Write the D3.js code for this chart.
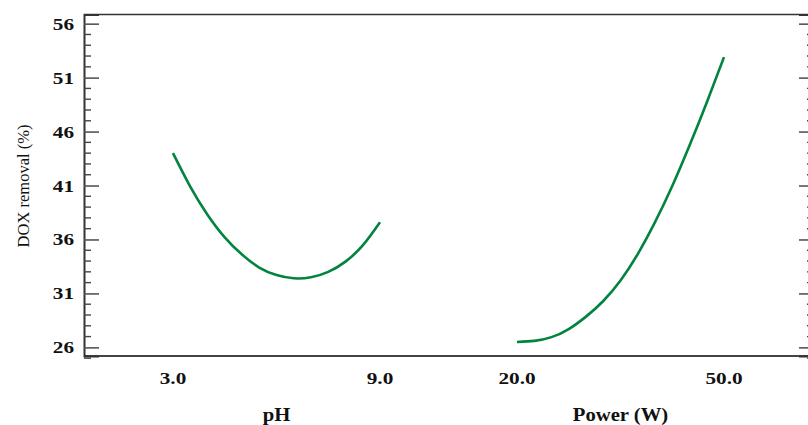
<!DOCTYPE html>
<html>
<head>
<meta charset="utf-8">
<script src="https://cdn.jsdelivr.net/npm/d3@7"></script>
<style>
  body { margin: 0; background: #fff; }
  svg text { font-family: "Liberation Serif", "Times New Roman", serif; }
</style>
</head>
<body>
<script>
var width = 808,
    height = 425

// factors and their settings
var factors = ["pH", "Power (W)"];
var factorTicks = [["3.0", "9.0"], ["20.0", "50.0"]];
var factorDomains = [[3, 9], [20, 50]];

var phLevels = [3, 3.5, 4, 4.5, 5, 5.5, 6, 6.5, 7, 7.5, 8, 8.5, 9];
var phRemoval = [44.0, 40.9, 38.3, 36.2, 34.6, 33.4, 32.7, 32.4, 32.5, 33.0, 33.95, 35.45, 37.6];

var powerLevels = [20, 22.5, 25, 27.5, 30, 32.5, 35, 37.5, 40, 42.5, 45, 47.5, 50];
var powerRemoval = [26.5, 26.6, 26.95, 27.7, 28.85, 30.3, 32.2, 34.65, 37.6, 40.95, 44.7, 48.7, 52.9];

var yMajor = [26, 31, 36, 41, 46, 51, 56];

var series = [
  phLevels.map(function(v, i) { return {x: v, y: phRemoval[i]}; }),
  powerLevels.map(function(v, i) { return {x: v, y: powerRemoval[i]}; })
];

var plotLeft = 84, plotRight = 814, plotTop = 14.5, plotBottom = 356;

var svg = d3.select("body").append("svg")
    .attr("width", width)
    .attr("height", height);

var y = d3.scaleLinear().domain([25.2, 56.85]).range([plotBottom, plotTop]);

var xBand = d3.scaleBand().domain(factors).range([plotLeft, plotRight])
    .paddingInner(0).paddingOuter(0.061);

var xInner = factors.map(function(f, i) {
  var c = xBand(f) + xBand.bandwidth() / 2;
  return d3.scaleLinear().domain(factorDomains[i]).range([c - 104, c + 103]);
});

// stretched bold label, like the original export
function label(x, yy, txt, size, sx, anchor, bold) {
  svg.append("text")
      .attr("transform", "translate(" + x + "," + yy + ") scale(" + sx + ",1)")
      .attr("text-anchor", anchor)
      .attr("font-size", size)
      .attr("font-weight", bold ? "bold" : "normal")
      .attr("fill", "#111")
      .text(txt);
}

// frame
svg.append("line").attr("x1", plotLeft).attr("x2", plotRight).attr("y1", plotTop).attr("y2", plotTop)
    .attr("stroke", "#333").attr("stroke-width", 1.6);
svg.append("line").attr("x1", plotLeft).attr("x2", plotRight).attr("y1", plotBottom).attr("y2", plotBottom)
    .attr("stroke", "#444").attr("stroke-width", 2);

// left axis
var minor = d3.range(26, 57, 1).filter(function(v) { return yMajor.indexOf(v) < 0; });
minor.push(25);

var leftAxis = d3.axisLeft(y).tickValues(yMajor).tickSize(-15).tickFormat("");
var gl = svg.append("g").attr("transform", "translate(" + plotLeft + ",0)").call(leftAxis);
gl.select(".domain").attr("stroke", "#333").attr("stroke-width", 2);
gl.selectAll(".tick line").attr("stroke", "#555").attr("stroke-width", 1.6);
gl.selectAll(".minor").data(minor).enter().append("line")
    .attr("x1", 0).attr("x2", 7)
    .attr("y1", function(d) { return y(d); }).attr("y2", function(d) { return y(d); })
    .attr("stroke", "#444").attr("stroke-width", 1.4);
yMajor.forEach(function(v) {
  label(74, y(v) + 6, String(v), 17, 1.25, "end", true);
});

// right axis (mirror, no labels)
var rightAxis = d3.axisRight(y).tickValues(yMajor).tickSize(-15).tickFormat("");
var gr = svg.append("g").attr("transform", "translate(" + plotRight + ",0)").call(rightAxis);
gr.select(".domain").attr("stroke", "#333").attr("stroke-width", 2);
gr.selectAll(".tick line").attr("stroke", "#555").attr("stroke-width", 1.6);
gr.selectAll(".minor").data(minor).enter().append("line")
    .attr("x1", 0).attr("x2", -7)
    .attr("y1", function(d) { return y(d); }).attr("y2", function(d) { return y(d); })
    .attr("stroke", "#444").attr("stroke-width", 1.4);

// curves
var line = d3.line().curve(d3.curveNatural);
series.forEach(function(s, i) {
  var xs = xInner[i];
  svg.append("path")
      .attr("d", line(s.map(function(d) { return [xs(d.x), y(d.y)]; })))
      .attr("fill", "none")
      .attr("stroke", "#00843f")
      .attr("stroke-width", 2.6);
});

// x tick labels and factor names
factors.forEach(function(f, i) {
  var xs = xInner[i];
  factorDomains[i].forEach(function(v, j) {
    label(xs(v), 384, factorTicks[i][j], 17, 1.25, "middle", true);
  });
  label(xBand(f) + xBand.bandwidth() / 2 - 0.5, 421, f, 18, 1.15, "middle", true);
});

// y title
svg.append("text")
    .attr("transform", "translate(29,186) rotate(-90)")
    .attr("text-anchor", "middle")
    .attr("font-size", 16.5).attr("fill", "#111")
    .text("DOX removal (%)");
</script>
</body>
</html>
